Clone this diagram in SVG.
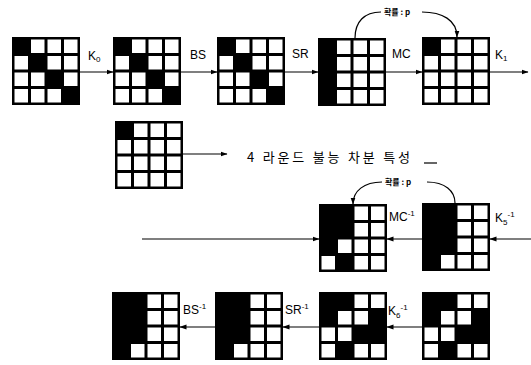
<svg xmlns="http://www.w3.org/2000/svg" width="531" height="365" viewBox="0 0 531 365">
<defs>
<style>
.b{fill:#000}
.w{fill:#fff}
.ln{stroke:#000;stroke-width:1.2;fill:none}
.lb{font-family:"Liberation Sans",Arial,sans-serif;font-size:12px;fill:#000}
.sm{font-size:8px}
.pr{font-family:"Noto Sans CJK KR","Liberation Sans",sans-serif;font-size:8px;font-weight:bold;fill:#000}
.kt{font-family:"Noto Sans CJK KR",sans-serif;font-size:13px;fill:#000}
</style>
<marker id="ah" markerWidth="7" markerHeight="6" refX="6.5" refY="3" orient="auto" markerUnits="userSpaceOnUse">
<path d="M0,0.5 L7,3 L0,5.5 Z" fill="#000"/>
</marker>
</defs>
<rect width="531" height="365" fill="#fff"/>

<g id="g1" transform="translate(12,37)">
<rect class="b" width="68" height="68"/>
<rect class="w" x="19" y="2.5" width="13.5" height="13.5"/><rect class="w" x="35.5" y="2.5" width="13.5" height="13.5"/><rect class="w" x="52" y="2.5" width="13.5" height="13.5"/>
<rect class="w" x="2.5" y="19" width="13.5" height="13.5"/><rect class="w" x="35.5" y="19" width="13.5" height="13.5"/><rect class="w" x="52" y="19" width="13.5" height="13.5"/>
<rect class="w" x="2.5" y="35.5" width="13.5" height="13.5"/><rect class="w" x="19" y="35.5" width="13.5" height="13.5"/><rect class="w" x="52" y="35.5" width="13.5" height="13.5"/>
<rect class="w" x="2.5" y="52" width="13.5" height="13.5"/><rect class="w" x="19" y="52" width="13.5" height="13.5"/><rect class="w" x="35.5" y="52" width="13.5" height="13.5"/>
</g>
<g id="g2" transform="translate(113,37)">
<rect class="b" width="68" height="68"/>
<rect class="w" x="19" y="2.5" width="13.5" height="13.5"/><rect class="w" x="35.5" y="2.5" width="13.5" height="13.5"/><rect class="w" x="52" y="2.5" width="13.5" height="13.5"/>
<rect class="w" x="2.5" y="19" width="13.5" height="13.5"/><rect class="w" x="35.5" y="19" width="13.5" height="13.5"/><rect class="w" x="52" y="19" width="13.5" height="13.5"/>
<rect class="w" x="2.5" y="35.5" width="13.5" height="13.5"/><rect class="w" x="19" y="35.5" width="13.5" height="13.5"/><rect class="w" x="52" y="35.5" width="13.5" height="13.5"/>
<rect class="w" x="2.5" y="52" width="13.5" height="13.5"/><rect class="w" x="19" y="52" width="13.5" height="13.5"/><rect class="w" x="35.5" y="52" width="13.5" height="13.5"/>
</g>
<g id="g3" transform="translate(217,37)">
<rect class="b" width="68" height="68"/>
<rect class="w" x="19" y="2.5" width="13.5" height="13.5"/><rect class="w" x="35.5" y="2.5" width="13.5" height="13.5"/><rect class="w" x="52" y="2.5" width="13.5" height="13.5"/>
<rect class="w" x="2.5" y="19" width="13.5" height="13.5"/><rect class="w" x="35.5" y="19" width="13.5" height="13.5"/><rect class="w" x="52" y="19" width="13.5" height="13.5"/>
<rect class="w" x="2.5" y="35.5" width="13.5" height="13.5"/><rect class="w" x="19" y="35.5" width="13.5" height="13.5"/><rect class="w" x="52" y="35.5" width="13.5" height="13.5"/>
<rect class="w" x="2.5" y="52" width="13.5" height="13.5"/><rect class="w" x="19" y="52" width="13.5" height="13.5"/><rect class="w" x="35.5" y="52" width="13.5" height="13.5"/>
</g>
<g id="g4" transform="translate(318,38)">
<rect class="b" width="68" height="68"/>
<rect class="w" x="19" y="2.5" width="13.5" height="13.5"/><rect class="w" x="35.5" y="2.5" width="13.5" height="13.5"/><rect class="w" x="52" y="2.5" width="13.5" height="13.5"/>
<rect class="w" x="19" y="19" width="13.5" height="13.5"/><rect class="w" x="35.5" y="19" width="13.5" height="13.5"/><rect class="w" x="52" y="19" width="13.5" height="13.5"/>
<rect class="w" x="19" y="35.5" width="13.5" height="13.5"/><rect class="w" x="35.5" y="35.5" width="13.5" height="13.5"/><rect class="w" x="52" y="35.5" width="13.5" height="13.5"/>
<rect class="w" x="19" y="52" width="13.5" height="13.5"/><rect class="w" x="35.5" y="52" width="13.5" height="13.5"/><rect class="w" x="52" y="52" width="13.5" height="13.5"/>
</g>
<g id="g5" transform="translate(422,37)">
<rect class="b" width="68" height="68"/>
<rect class="w" x="19" y="2.5" width="13.5" height="13.5"/><rect class="w" x="35.5" y="2.5" width="13.5" height="13.5"/><rect class="w" x="52" y="2.5" width="13.5" height="13.5"/>
<rect class="w" x="2.5" y="19" width="13.5" height="13.5"/><rect class="w" x="19" y="19" width="13.5" height="13.5"/><rect class="w" x="35.5" y="19" width="13.5" height="13.5"/><rect class="w" x="52" y="19" width="13.5" height="13.5"/>
<rect class="w" x="2.5" y="35.5" width="13.5" height="13.5"/><rect class="w" x="19" y="35.5" width="13.5" height="13.5"/><rect class="w" x="35.5" y="35.5" width="13.5" height="13.5"/><rect class="w" x="52" y="35.5" width="13.5" height="13.5"/>
<rect class="w" x="2.5" y="52" width="13.5" height="13.5"/><rect class="w" x="19" y="52" width="13.5" height="13.5"/><rect class="w" x="35.5" y="52" width="13.5" height="13.5"/><rect class="w" x="52" y="52" width="13.5" height="13.5"/>
</g>
<g id="g6" transform="translate(115,121)">
<rect class="b" width="68" height="68"/>
<rect class="w" x="19" y="2.5" width="13.5" height="13.5"/><rect class="w" x="35.5" y="2.5" width="13.5" height="13.5"/><rect class="w" x="52" y="2.5" width="13.5" height="13.5"/>
<rect class="w" x="2.5" y="19" width="13.5" height="13.5"/><rect class="w" x="19" y="19" width="13.5" height="13.5"/><rect class="w" x="35.5" y="19" width="13.5" height="13.5"/><rect class="w" x="52" y="19" width="13.5" height="13.5"/>
<rect class="w" x="2.5" y="35.5" width="13.5" height="13.5"/><rect class="w" x="19" y="35.5" width="13.5" height="13.5"/><rect class="w" x="35.5" y="35.5" width="13.5" height="13.5"/><rect class="w" x="52" y="35.5" width="13.5" height="13.5"/>
<rect class="w" x="2.5" y="52" width="13.5" height="13.5"/><rect class="w" x="19" y="52" width="13.5" height="13.5"/><rect class="w" x="35.5" y="52" width="13.5" height="13.5"/><rect class="w" x="52" y="52" width="13.5" height="13.5"/>
</g>
<g id="g7" transform="translate(319,204)">
<rect class="b" width="68" height="68"/>
<rect class="w" x="35.5" y="2.5" width="13.5" height="13.5"/><rect class="w" x="52" y="2.5" width="13.5" height="13.5"/>
<rect class="w" x="35.5" y="19" width="13.5" height="13.5"/><rect class="w" x="52" y="19" width="13.5" height="13.5"/>
<rect class="w" x="19" y="35.5" width="13.5" height="13.5"/><rect class="w" x="35.5" y="35.5" width="13.5" height="13.5"/><rect class="w" x="52" y="35.5" width="13.5" height="13.5"/>
<rect class="w" x="2.5" y="52" width="13.5" height="13.5"/><rect class="w" x="35.5" y="52" width="13.5" height="13.5"/><rect class="w" x="52" y="52" width="13.5" height="13.5"/>
</g>
<g id="g8" transform="translate(422,203)">
<rect class="b" width="68" height="68"/>
<rect class="w" x="35.5" y="2.5" width="13.5" height="13.5"/><rect class="w" x="52" y="2.5" width="13.5" height="13.5"/>
<rect class="w" x="35.5" y="19" width="13.5" height="13.5"/><rect class="w" x="52" y="19" width="13.5" height="13.5"/>
<rect class="w" x="35.5" y="35.5" width="13.5" height="13.5"/><rect class="w" x="52" y="35.5" width="13.5" height="13.5"/>
<rect class="w" x="19" y="52" width="13.5" height="13.5"/><rect class="w" x="35.5" y="52" width="13.5" height="13.5"/><rect class="w" x="52" y="52" width="13.5" height="13.5"/>
</g>
<g id="g9" transform="translate(112,292)">
<rect class="b" width="68" height="68"/>
<rect class="w" x="35.5" y="2.5" width="13.5" height="13.5"/><rect class="w" x="52" y="2.5" width="13.5" height="13.5"/>
<rect class="w" x="35.5" y="19" width="13.5" height="13.5"/><rect class="w" x="52" y="19" width="13.5" height="13.5"/>
<rect class="w" x="35.5" y="35.5" width="13.5" height="13.5"/><rect class="w" x="52" y="35.5" width="13.5" height="13.5"/>
<rect class="w" x="19" y="52" width="13.5" height="13.5"/><rect class="w" x="35.5" y="52" width="13.5" height="13.5"/><rect class="w" x="52" y="52" width="13.5" height="13.5"/>
</g>
<g id="g10" transform="translate(215,292)">
<rect class="b" width="68" height="68"/>
<rect class="w" x="35.5" y="2.5" width="13.5" height="13.5"/><rect class="w" x="52" y="2.5" width="13.5" height="13.5"/>
<rect class="w" x="35.5" y="19" width="13.5" height="13.5"/><rect class="w" x="52" y="19" width="13.5" height="13.5"/>
<rect class="w" x="35.5" y="35.5" width="13.5" height="13.5"/><rect class="w" x="52" y="35.5" width="13.5" height="13.5"/>
<rect class="w" x="19" y="52" width="13.5" height="13.5"/><rect class="w" x="35.5" y="52" width="13.5" height="13.5"/><rect class="w" x="52" y="52" width="13.5" height="13.5"/>
</g>
<g id="g11" transform="translate(319,292)">
<rect class="b" width="68" height="68"/>
<rect class="w" x="35.5" y="2.5" width="13.5" height="13.5"/><rect class="w" x="52" y="2.5" width="13.5" height="13.5"/>
<rect class="w" x="19" y="19" width="13.5" height="13.5"/><rect class="w" x="35.5" y="19" width="13.5" height="13.5"/>
<rect class="w" x="2.5" y="35.5" width="13.5" height="13.5"/><rect class="w" x="19" y="35.5" width="13.5" height="13.5"/>
<rect class="w" x="2.5" y="52" width="13.5" height="13.5"/><rect class="w" x="35.5" y="52" width="13.5" height="13.5"/><rect class="w" x="52" y="52" width="13.5" height="13.5"/>
</g>
<g id="g12" transform="translate(422,292)">
<rect class="b" width="68" height="68"/>
<rect class="w" x="35.5" y="2.5" width="13.5" height="13.5"/><rect class="w" x="52" y="2.5" width="13.5" height="13.5"/>
<rect class="w" x="19" y="19" width="13.5" height="13.5"/><rect class="w" x="35.5" y="19" width="13.5" height="13.5"/>
<rect class="w" x="2.5" y="35.5" width="13.5" height="13.5"/><rect class="w" x="19" y="35.5" width="13.5" height="13.5"/>
<rect class="w" x="2.5" y="52" width="13.5" height="13.5"/><rect class="w" x="35.5" y="52" width="13.5" height="13.5"/><rect class="w" x="52" y="52" width="13.5" height="13.5"/>
</g>

<g id="connectors">
<line class="ln" x1="80" y1="72" x2="113" y2="72" marker-end="url(#ah)"/>
<line class="ln" x1="181" y1="72" x2="217" y2="72" marker-end="url(#ah)"/>
<line class="ln" x1="285" y1="72" x2="318" y2="72" marker-end="url(#ah)"/>
<line class="ln" x1="386" y1="72" x2="422" y2="72" marker-end="url(#ah)"/>
<line class="ln" x1="490" y1="72" x2="528" y2="72" marker-end="url(#ah)"/>
<path class="ln" d="M355,38 C355,22 364,12 381,12"/>
<path class="ln" d="M422,12 C442,12 457,20 457,37" marker-end="url(#ah)"/>
<line class="ln" x1="183" y1="154" x2="227" y2="154" marker-end="url(#ah)"/>
<line class="ln" x1="424" y1="163" x2="437" y2="163"/>
<path class="ln" d="M382,182 C364,182 353,191 353,204" marker-end="url(#ah)"/>
<path class="ln" d="M427,182 C445,182 455,191 455,203"/>
<line class="ln" x1="142" y1="239" x2="319" y2="239" marker-end="url(#ah)"/>
<line class="ln" x1="422" y1="239" x2="387" y2="239" marker-end="url(#ah)"/>
<line class="ln" x1="531" y1="239" x2="490" y2="239" marker-end="url(#ah)"/>
<line class="ln" x1="422" y1="327" x2="387" y2="327" marker-end="url(#ah)"/>
<line class="ln" x1="319" y1="327" x2="283" y2="327" marker-end="url(#ah)"/>
<line class="ln" x1="215" y1="327" x2="180" y2="327" marker-end="url(#ah)"/>
</g>

<g id="labels">
<text class="lb" x="88" y="60">K<tspan class="sm" dy="2">0</tspan></text>
<text class="lb" x="190" y="59">BS</text>
<text class="lb" x="292" y="58">SR</text>
<text class="lb" x="392" y="58">MC</text>
<text class="lb" x="495" y="59">K<tspan class="sm" dy="2">1</tspan></text>
<text class="pr" x="384" y="15">확률 : p</text>
<text class="kt" x="247" y="162" textLength="163" lengthAdjust="spacing">4 라운드 불능 차분 특성</text>
<text class="pr" x="385" y="185">확률 : p</text>
<text class="lb" x="389" y="221">MC<tspan class="sm" dy="-5">-1</tspan></text>
<text class="lb" x="495" y="222">K<tspan class="sm" dy="3">5</tspan><tspan class="sm" dy="-8">-1</tspan></text>
<text class="lb" x="183" y="314">BS<tspan class="sm" dy="-5">-1</tspan></text>
<text class="lb" x="285" y="314">SR<tspan class="sm" dy="-5">-1</tspan></text>
<text class="lb" x="388" y="315">K<tspan class="sm" dy="3">6</tspan><tspan class="sm" dy="-8">-1</tspan></text>
</g>
</svg>
